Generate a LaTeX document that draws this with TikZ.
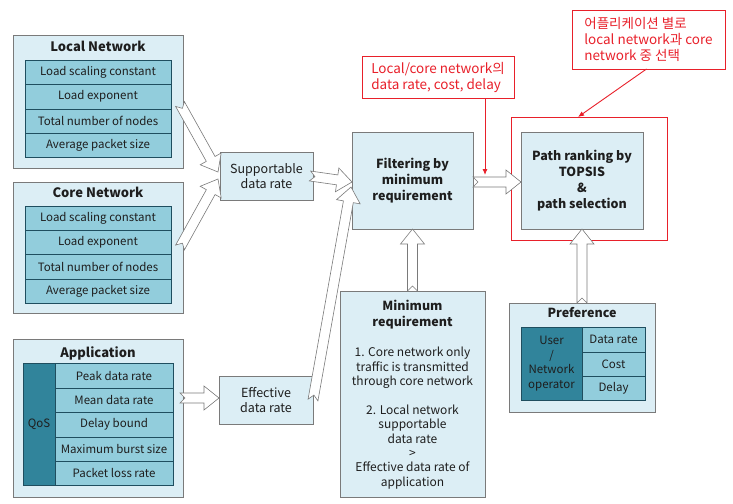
\documentclass[tikz,border=0pt]{standalone}
\usepackage{fontspec}
\setmainfont{Noto Sans CJK KR}
\usetikzlibrary{calc,arrows.meta}
\definecolor{bgblue}{HTML}{DCEEF5}
\definecolor{cellc}{HTML}{92CDDC}
\definecolor{darkc}{HTML}{31849B}
\definecolor{edgec}{HTML}{1F4E5F}
\definecolor{redc}{HTML}{E8202A}
\definecolor{txtc}{HTML}{1E1E1E}
\definecolor{boxline}{HTML}{7A7A7A}
\newcommand\bx[7]{\node[#6,anchor=north west,minimum width={(#4)-(#2)},minimum height={(#5)-(#3)}] (#1) at (#2,#3) {#7};}
\newcommand\blockarrow[2]{%
 \draw[barrow] ($(#1)!5pt!90:(#2)$) -- ($(#2)!15pt!(#1)!5pt!-90:(#1)$) -- ($(#2)!15pt!(#1)!12pt!-90:(#1)$) -- (#2) -- ($(#2)!15pt!(#1)!12pt!90:(#1)$) -- ($(#2)!15pt!(#1)!5pt!90:(#1)$) -- ($(#1)!5pt!-90:(#2)$) -- ($(#1)!5pt!(#2)$) -- cycle;}
\tikzset{
 outerbox/.style={draw=boxline,fill=bgblue,line width=0.8pt,inner sep=0pt,outer sep=0pt,text=txtc,align=center},
 cellbox/.style={draw=edgec,fill=cellc,line width=0.8pt,inner sep=0pt,outer sep=0pt,text=txtc,align=center},
 darkbox/.style={draw=edgec,fill=darkc,line width=0.8pt,inner sep=0pt,outer sep=0pt,text=txtc,align=center},
 redbox/.style={draw=redc,line width=0.9pt,inner sep=0pt,outer sep=0pt,text=redc},
 ttl/.style={font=\fontsize{13}{16}\selectfont\bfseries,text=txtc,align=center,inner sep=0pt},
 midttl/.style={font=\fontsize{12.5}{16}\selectfont\bfseries,text=txtc,align=center,inner sep=0pt},
 boldtxt/.style={font=\fontsize{12.5}{16}\selectfont\bfseries},
 midtxt/.style={font=\fontsize{12.5}{15}\selectfont},
 barrow/.style={draw=boxline,fill=white,line width=0.6pt,line join=miter},
 redarrow/.style={draw=redc,line width=0.9pt,-{Latex[length=6pt,width=5pt]}},
 redtxt/.style={align=left,font=\fontsize{13.5}{16}\selectfont},
}
\begin{document}
\begin{tikzpicture}[x=1pt,y=-1pt,font=\fontsize{11.5}{14}\selectfont]
\useasboundingbox (0,0) rectangle (733,503);
% Local network
\bx{local}{13}{35}{183}{168}{outerbox}{}
\node[ttl] (localt) at (98,46) {Local Network};
\bx{l1}{25}{60}{171}{84}{cellbox}{Load scaling constant}
\bx{l2}{25}{84}{171}{109}{cellbox}{Load exponent}
\bx{l3}{25}{109}{171}{133}{cellbox}{Total number of nodes}
\bx{l4}{25}{133}{171}{157}{cellbox}{Average packet size}
% Core network
\bx{core}{13}{182}{183}{313}{outerbox}{}
\node[ttl] (coret) at (98,192) {Core Network};
\bx{c1}{25}{206}{171}{230}{cellbox}{Load scaling constant}
\bx{c2}{25}{230}{171}{254}{cellbox}{Load exponent}
\bx{c3}{25}{254}{171}{279}{cellbox}{Total number of nodes}
\bx{c4}{25}{279}{171}{303}{cellbox}{Average packet size}
% Application
\bx{app}{13}{339}{183}{497}{outerbox}{}
\node[ttl] (appt) at (98,353) {Application};
\bx{qos}{23}{363}{55}{485}{darkbox}{QoS}
\bx{a1}{55}{363}{173}{388}{cellbox}{Peak data rate}
\bx{a2}{55}{388}{173}{412}{cellbox}{Mean data rate}
\bx{a3}{55}{412}{173}{437}{cellbox}{Delay bound}
\bx{a4}{55}{437}{173}{461}{cellbox}{Maximum burst size}
\bx{a5}{55}{461}{173}{485}{cellbox}{Packet loss rate}
% middle boxes
\bx{supp}{220}{152}{313}{200}{outerbox,midtxt}{Supportable\\data rate}
\bx{eff}{219}{376}{313}{424}{outerbox,midtxt}{Effective\\data rate}
\bx{filt}{352}{132}{473}{229}{outerbox,boldtxt}{Filtering by\\minimum\\requirement}
\bx{path}{521}{132}{643}{229}{outerbox,boldtxt}{Path ranking by\\TOPSIS\\\&\\path selection}
% minimum requirement
\bx{minr}{340}{291}{485}{497}{outerbox}{}
\node[midttl] (minrt) at (412.5,315) {Minimum\\requirement};
\node[font=\fontsize{12}{14.4}\selectfont,text=txtc,align=center,inner sep=0pt] (minrb) at (412.5,418)
 {1. Core network only\\traffic is transmitted\\through core network\\[14.4pt]2. Local network\\supportable\\data rate\\>\\Effective data rate of\\application};
% preference
\bx{pref}{509}{303}{655}{412}{outerbox}{}
\node[midttl] (preft) at (582,313) {Preference};
\bx{user}{521}{327}{582}{400}{darkbox,font=\fontsize{11.5}{14.5}\selectfont}{User\\/\\Network\\operator}
\bx{p1}{582}{327}{645}{352}{cellbox}{Data rate}
\bx{p2}{582}{352}{645}{376}{cellbox}{Cost}
\bx{p3}{582}{376}{645}{400}{cellbox}{Delay}
% red annotations
\bx{redsel}{511}{117}{667}{240}{redbox}{}
\bx{red1}{362}{56}{514}{98}{redbox,redtxt}{Local/core network의\\data rate, cost, delay}
\bx{red3}{572}{10}{725}{69}{redbox,redtxt}{어플리케이션 별로\\local network과 core\\network 중 선택}
% block arrows
\coordinate (s1) at ([shift={(-3,2.5)}]local.east);
\coordinate (e1) at ([shift={(-2,-4)}]supp.west);
\coordinate (s2) at ([shift={(-3,0)}]core.east);
\coordinate (e2) at ([shift={(-2,3)}]supp.west);
\coordinate (s3) at ([shift={(-3,0)}]supp.east);
\coordinate (e3) at ([shift={(0,1.5)}]filt.west);
\coordinate (s4) at ([shift={(0,0)}]eff.east);
\coordinate (e4) at ([shift={(-1,6.5)}]filt.west);
\coordinate (s5) at ([shift={(-3,-20)}]app.east);
\coordinate (e5) at ([shift={(0,-2)}]eff.west);
\coordinate (s6) at ([shift={(0,1.5)}]filt.east);
\coordinate (e6) at ([shift={(0,1.5)}]path.west);
\blockarrow{s1}{e1}
\blockarrow{s2}{e2}
\blockarrow{s3}{e3}
\blockarrow{s4}{e4}
\blockarrow{s5}{e5}
\blockarrow{s6}{e6}
\blockarrow{minr.north}{filt.south}
\blockarrow{pref.north}{path.south}
% red arrows
\coordinate (r1e) at ([shift={(12,-7)}]s6);
\draw[redarrow] (red1.south -| r1e) -- (r1e);
\draw[redarrow] ([shift={(-2,0)}]red3.south) -- ([shift={(-11,0)}]redsel.north);
\end{tikzpicture}
\end{document}
